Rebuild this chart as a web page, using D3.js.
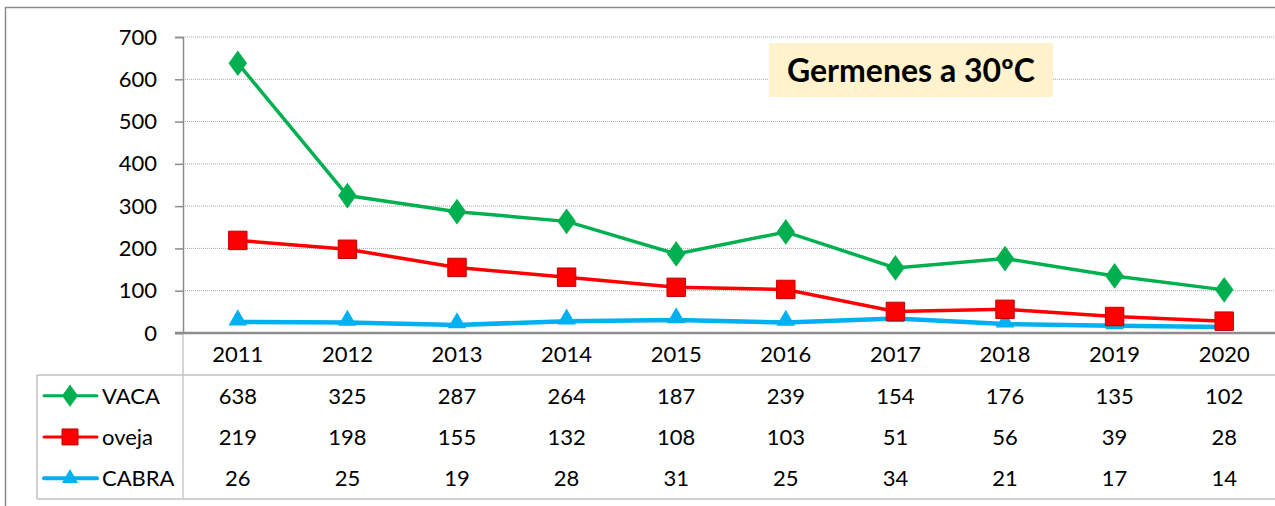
<!DOCTYPE html>
<html>
<head>
<meta charset="utf-8">
<script src="https://cdn.jsdelivr.net/npm/d3@7/dist/d3.min.js"></script>
<style>
  body { margin: 0; background: #fff; }
  svg { display: block; font-family: Lato, "Open Sans", sans-serif; }
</style>
</head>
<body>
<svg id="chart" width="1275" height="506"></svg>
<script>
var years = ["2011", "2012", "2013", "2014", "2015", "2016", "2017", "2018", "2019", "2020"];
var vaca  = [638, 325, 287, 264, 187, 239, 154, 176, 135, 102];
var oveja = [219, 198, 155, 132, 108, 103, 51, 56, 39, 28];
var cabra = [26, 25, 19, 28, 31, 25, 34, 21, 17, 14];
var yTicks = [0, 100, 200, 300, 400, 500, 600, 700];
var title = "Germenes a 30ºC";

var series = [
    {name: "VACA",  values: vaca,  color: "#00b050", marker: "diamond"},
    {name: "oveja", values: oveja, color: "#ff0000", marker: "square"},
    {name: "CABRA", values: cabra, color: "#00b0f0", marker: "triangle"}
];

var plot = {left: 183, right: 1279, top: 37, bottom: 333},
    table = {left: 37, top: 375, rowH: 41.3},
    fs = 22;

var svg = d3.select("#chart");

// outer chart border
svg.append("rect")
    .attr("x", 5.5).attr("y", 7.5)
    .attr("width", 1280).attr("height", 510)
    .attr("fill", "none").attr("stroke", "#8c8c8c").attr("stroke-width", 1.5);

var x = d3.scaleBand().domain(years).range([plot.left, plot.right]);
var y = d3.scaleLinear().domain([0, 700]).range([plot.bottom, plot.top]);
var cx = function(i){ return x(years[i]) + x.bandwidth() / 2; };

// gridlines
svg.append("g")
    .selectAll("line")
    .data(yTicks.filter(function(d){ return d > 0; }))
    .enter().append("line")
    .attr("x1", plot.left).attr("x2", plot.right)
    .attr("y1", function(d){ return y(d); }).attr("y2", function(d){ return y(d); })
    .attr("stroke", "#a6a6a6").attr("stroke-width", 1).attr("stroke-dasharray", "1,1");

// y axis
var yAxis = svg.append("g")
    .attr("transform", "translate(" + plot.left + ",0)")
    .call(d3.axisLeft(y).tickValues(yTicks).tickSize(8).tickPadding(18));
yAxis.select(".domain").attr("stroke", "#8c8c8c").attr("stroke-width", 1.5);
yAxis.selectAll(".tick line").attr("stroke", "#8c8c8c").attr("stroke-width", 1.5);
yAxis.selectAll(".tick text")
    .attr("font-size", fs).attr("font-family", "Lato, sans-serif").attr("fill", "#000");

// category/table vertical line
svg.append("line")
    .attr("x1", plot.left).attr("x2", plot.left)
    .attr("y1", plot.bottom).attr("y2", table.top + table.rowH * 3)
    .attr("stroke", "#c8c8c8").attr("stroke-width", 1.5);

// x axis baseline
svg.append("line")
    .attr("x1", plot.left - 8).attr("x2", plot.right)
    .attr("y1", plot.bottom).attr("y2", plot.bottom)
    .attr("stroke", "#8c8c8c").attr("stroke-width", 2.5);

// year labels
svg.append("g")
    .selectAll("text")
    .data(years)
    .enter().append("text")
    .attr("x", function(d){ return x(d) + x.bandwidth() / 2; })
    .attr("y", 362)
    .attr("text-anchor", "middle")
    .attr("font-size", fs)
    .text(function(d){ return d; });

// data table lines
var tbl = svg.append("g");
tbl.append("line")
    .attr("x1", table.left).attr("x2", plot.right)
    .attr("y1", table.top).attr("y2", table.top)
    .attr("stroke", "#bfbfbf").attr("stroke-width", 1.5);
tbl.append("line")
    .attr("x1", table.left).attr("x2", plot.right)
    .attr("y1", table.top + table.rowH * 3).attr("y2", table.top + table.rowH * 3)
    .attr("stroke", "#d0d0d0").attr("stroke-width", 2);
tbl.append("line")
    .attr("x1", table.left).attr("x2", table.left)
    .attr("y1", table.top).attr("y2", table.top + table.rowH * 3)
    .attr("stroke", "#bfbfbf").attr("stroke-width", 1.5);

function drawMarker(g, type, color, size){
    var sym = {diamond: d3.symbolDiamond, square: d3.symbolSquare, triangle: d3.symbolTriangle}[type];
    var area = {diamond: 190, square: 340, triangle: 150}[type];
    var p = g.append("path")
        .attr("d", d3.symbol().type(sym).size(area * (size || 1)))
        .attr("fill", color);
    if(type === "diamond") p.attr("transform", "scale(1.25,1)");
    if(type === "square") p.attr("stroke", "#c00000").attr("stroke-width", 1);
    if(type === "triangle") p.attr("transform", "translate(0,-2)");
    return p;
}

// series lines and markers (cabra drawn first so it sits under)
series.slice().reverse().forEach(function(s){
    var line = d3.line()
        .x(function(d, i){ return cx(i); })
        .y(function(d){ return y(d); });
    var g = svg.append("g");
    g.append("path")
        .datum(s.values)
        .attr("d", line)
        .attr("fill", "none")
        .attr("stroke", s.color)
        .attr("stroke-width", s.marker === "triangle" ? 4.5 : 3.5);
    s.values.forEach(function(v, i){
        var m = g.append("g").attr("transform", "translate(" + cx(i) + "," + y(v) + ")");
        drawMarker(m, s.marker, s.color);
    });
});

// table rows: legend keys + values
series.forEach(function(s, r){
    var rowY = table.top + table.rowH * (r + 0.5);
    var key = svg.append("g");
    key.append("line")
        .attr("x1", 44).attr("x2", 97)
        .attr("y1", rowY).attr("y2", rowY)
        .attr("stroke", s.color).attr("stroke-width", s.marker === "triangle" ? 4 : 3)
        .attr("stroke-linecap", "round");
    var m = key.append("g").attr("transform", "translate(70," + (rowY + (s.marker === "triangle" ? 2 : 0)) + ")");
    drawMarker(m, s.marker, s.color, 0.75);
    key.append("text")
        .attr("x", 102).attr("y", rowY + 8)
        .attr("font-size", fs)
        .text(s.name);
    svg.append("g")
        .selectAll("text")
        .data(s.values)
        .enter().append("text")
        .attr("x", function(d, i){ return cx(i); })
        .attr("y", rowY + 8)
        .attr("text-anchor", "middle")
        .attr("font-size", fs)
        .text(function(d){ return d; });
});

// title box
var tg = svg.append("g");
tg.append("rect")
    .attr("x", 769).attr("y", 43)
    .attr("width", 284).attr("height", 54)
    .attr("fill", "#fff2cc");
tg.append("text")
    .attr("x", 911).attr("y", 82)
    .attr("text-anchor", "middle")
    .attr("font-size", 32).attr("font-weight", "bold")
    .text(title);
</script>
</body>
</html>
